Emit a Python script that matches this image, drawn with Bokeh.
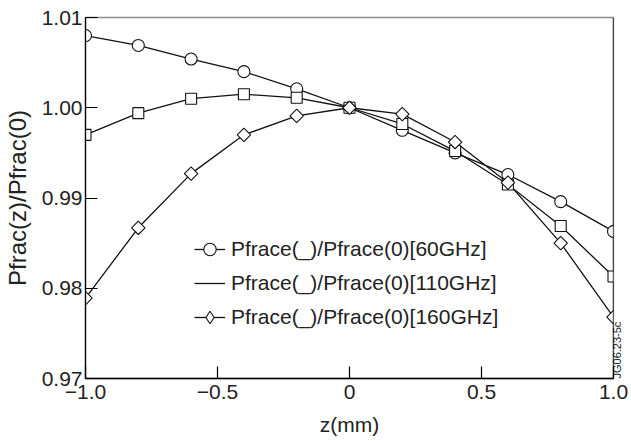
import numpy as np
from bokeh.plotting import figure
from bokeh.models import Legend, LegendItem, FixedTicker, Span, Range1d, LinearAxis
from bokeh.embed import file_html
from bokeh.resources import INLINE

z = [-1.0, -0.8, -0.6, -0.4, -0.2, 0.0, 0.2, 0.4, 0.6, 0.8, 1.0]
p60 = [1.0080, 1.0069, 1.0054, 1.0040, 1.0021, 1.0000, 0.9975, 0.9950, 0.9926, 0.9896, 0.9863]
p110 = [0.9970, 0.9994, 1.0010, 1.0015, 1.0011, 1.0000, 0.9982, 0.9952, 0.9915, 0.9869, 0.9813]
p160 = [0.9789, 0.9867, 0.9927, 0.9970, 0.9991, 1.0000, 0.9993, 0.9962, 0.9917, 0.9850, 0.9768]

x_ticks = [-1.0, -0.5, 0.0, 0.5, 1.0]
x_labels = ["\u22121.0", "\u22120.5", "0", "0.5", "1.0"]
y_ticks = [0.97, 0.98, 0.99, 1.00, 1.01]
y_labels = ["0.97", "0.98", "0.99", "1.00", "1.01"]

legend_labels = ["Pfrace(_)/Pfrace(0)[60GHz]",
                 "Pfrace(_)/Pfrace(0)[110GHz]",
                 "Pfrace(_)/Pfrace(0)[160GHz]"]

FONT = "Liberation Sans"
FS = "21px"
TXT = "#222222"

p = figure(width=631, height=441, output_backend="svg", toolbar_location=None,
           x_range=Range1d(-1.0, 1.0), y_range=Range1d(0.97, 1.01),
           min_border_left=85, min_border_right=17, min_border_top=17, min_border_bottom=63)
p.xgrid.visible = False
p.ygrid.visible = False
p.outline_line_color = "#8a8a8a"
p.outline_line_width = 1.3

for ax, ticks, labels in ((p.xaxis[0], x_ticks, x_labels), (p.yaxis[0], y_ticks, y_labels)):
    ax.ticker = FixedTicker(ticks=ticks)
    ax.major_label_overrides = {t: l for t, l in zip(ticks, labels)}
    ax.major_tick_in = 12
    ax.major_tick_out = 0
    ax.minor_tick_line_color = None
    ax.axis_line_color = "black"
    ax.axis_line_width = 1.3
    ax.major_tick_line_width = 1.2
    ax.major_label_text_font = FONT
    ax.major_label_text_font_size = FS
    ax.major_label_text_color = TXT
    ax.axis_label_text_font = FONT
    ax.axis_label_text_font_style = "normal"
    ax.axis_label_text_color = TXT

p.xaxis[0].axis_label = "z(mm)"
p.xaxis[0].axis_label_text_font_size = FS
p.xaxis[0].major_label_standoff = 6
p.xaxis[0].axis_label_standoff = 11
p.yaxis[0].axis_label = "Pfrac(z)/Pfrac(0)"
p.yaxis[0].axis_label_text_font_size = "24px"
p.yaxis[0].major_label_standoff = 3
p.yaxis[0].axis_label_standoff = 8

# right border (black) and the figure code on the right side
p.add_layout(Span(location=1.0, dimension="height", line_color="black", line_width=1.3))
rax = LinearAxis(ticker=FixedTicker(ticks=[]), axis_label="JG06.23-5c")
rax.axis_line_color = None
rax.major_tick_line_color = None
rax.minor_tick_line_color = None
rax.major_label_text_font_size = "0px"
rax.axis_label_text_font = FONT
rax.axis_label_text_font_size = "11px"
rax.axis_label_text_font_style = "normal"
rax.axis_label_text_color = TXT
rax.axis_label_standoff = 3
try:
    rax.axis_label_orientation = np.pi / 2
except Exception:
    pass
try:
    rax.axis_label_align = "start"
except Exception:
    pass
p.add_layout(rax, "right")

lc = "#111111"
l60 = p.line(z, p60, line_color=lc, line_width=1.3)
l110 = p.line(z, p110, line_color=lc, line_width=1.3)
l160 = p.line(z, p160, line_color=lc, line_width=1.3)
s60 = p.scatter(z, p60, marker="circle", size=12, fill_color="white", line_color=lc, line_width=1.1)
s110 = p.scatter(z, p110, marker="square", size=11, fill_color="white", line_color=lc, line_width=1.1)
s160 = p.scatter(z, p160, marker="square", angle=np.pi / 4, size=9.5, fill_color="white",
                 line_color=lc, line_width=1.1)
# legend-only marker for the 160 GHz entry (diamond shape)
d160 = p.scatter([np.nan], [np.nan], marker="diamond", fill_color="white", line_color=lc, line_width=1.1)

legend = Legend(items=[
    LegendItem(label=legend_labels[0], renderers=[l60, s60]),
    LegendItem(label=legend_labels[1], renderers=[l110]),
    LegendItem(label=legend_labels[2], renderers=[l160, d160]),
], location=(109, 44))
legend.border_line_color = None
legend.background_fill_alpha = 0
legend.padding = 0
legend.margin = 0
legend.spacing = 0
legend.glyph_width = 31
legend.glyph_height = 34
legend.label_height = 34
legend.label_standoff = 6
legend.label_text_font = FONT
legend.label_text_font_size = FS
legend.label_text_color = TXT
p.add_layout(legend)

open("out.html", "w").write(file_html(p, INLINE))
